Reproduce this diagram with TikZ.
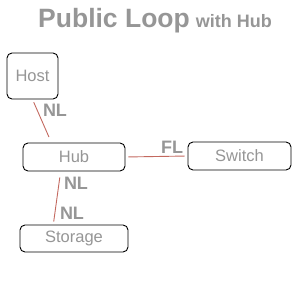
\documentclass[tikz,border=0pt]{standalone}
\usepackage{fontspec}
\setmainfont{Liberation Sans}
\usetikzlibrary{calc}
\definecolor{txtgray}{RGB}{150,150,150}
\definecolor{linkred}{RGB}{195,105,95}
\begin{document}
\begin{tikzpicture}[x=1pt,y=-1pt,
  box/.style={draw=black,line width=0.9pt,rounded corners=5pt,fill=white,inner sep=0pt,
    text=txtgray,font=\fontsize{16.5}{18}\selectfont},
  link/.style={draw=linkred,line width=0.9pt},
  lbl/.style={text=txtgray,font=\bfseries\fontsize{18}{20}\selectfont,inner sep=0pt}]
\useasboundingbox (0,0) rectangle (303,283);
\node[text=txtgray,font=\bfseries,inner sep=0pt,anchor=base] (title) at (155,28)
  {{\fontsize{26.5}{30}\selectfont Public Loop}\hspace{6pt}{\fontsize{18}{20}\selectfont with Hub}};
\node[box,minimum width=51pt,minimum height=46pt] (host) at (32.5,76) {Host};
\node[box,minimum width=102pt,minimum height=28pt] (hub) at (74,157) {Hub};
\node[box,minimum width=103pt,minimum height=28pt] (switch) at (239.5,156) {Switch};
\node[box,minimum width=108pt,minimum height=27pt] (storage) at (74,238.5) {Storage};
\coordinate (hubtop) at ($(hub.north west)!0.28!(hub.north east)$);
\coordinate (hubbot) at ($(hub.south west)!0.37!(hub.south east)$);
\coordinate (stotop) at ($(storage.north west)!0.31!(storage.north east)$);
\draw[link,shorten <=3pt,shorten >=6pt] (host.south) -- (hubtop);
\draw[link,shorten <=3pt,shorten >=3pt] (hub.east) -- (switch.west);
\draw[link,shorten <=6pt,shorten >=3pt] (hubbot) -- (stotop);
\node[lbl] (nl1) at (55,110) {NL};
\node[lbl] (fl) at (172,147) {FL};
\node[lbl] (nl2) at (76,183) {NL};
\node[lbl] (nl3) at (72,213) {NL};
\end{tikzpicture}
\end{document}
